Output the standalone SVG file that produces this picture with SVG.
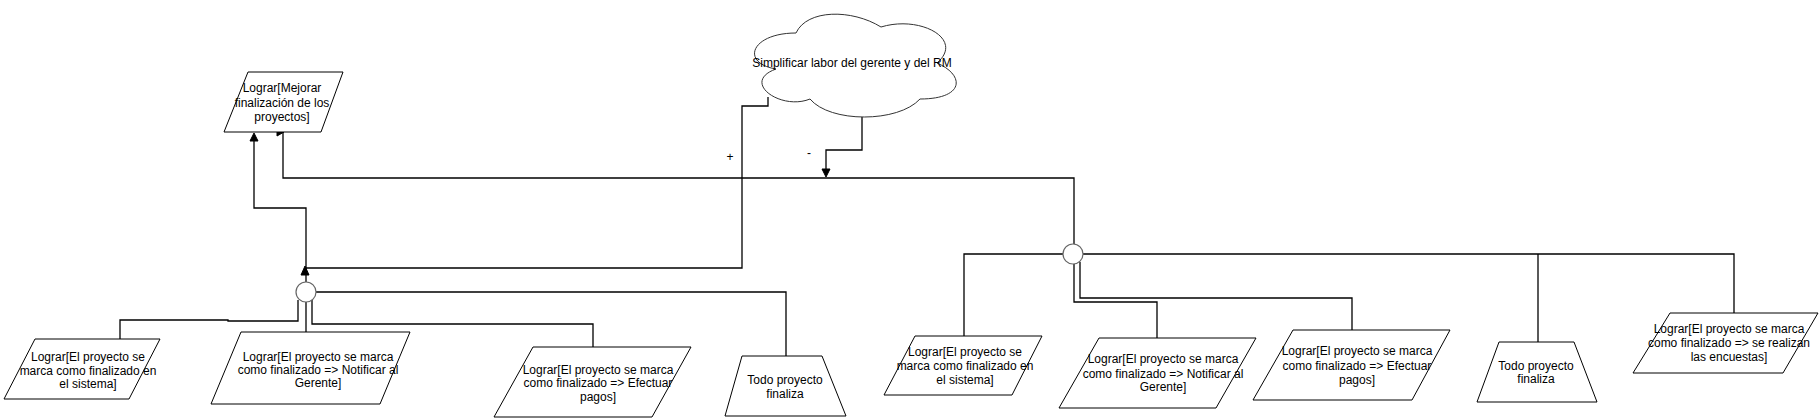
<svg xmlns="http://www.w3.org/2000/svg" width="1819" height="418" viewBox="0 0 1819 418">
<style>
.shape{fill:#fff;stroke:#000;stroke-width:1}
.circ{fill:#fff;stroke:#666;stroke-width:1.2}
.cloud{fill:#fff;stroke:#333;stroke-width:1}
.edge{fill:none;stroke:#000;stroke-width:1.3}
.ah{fill:#000;stroke:#000;stroke-width:1}
text{font-family:"Liberation Sans",Arial,sans-serif;font-size:12px;fill:#000;text-anchor:middle}
.sm{font-size:12px}
</style>
<rect width="1819" height="418" fill="#fff"/>
<g id="connectors">
<path class="edge" d="M306 282 V208 H254 V141"/>
<polygon class="ah" points="254,133 250,141 258,141"/>
<path class="edge" d="M1074 244 V178 H283 V132"/>
<polygon class="ah" points="284,132 277,128 277,136"/>
<path class="edge" d="M768 97 V106 H742 V268 H306"/>
<polygon class="ah" points="305,266 301,275 309,275"/>
<path class="edge" d="M862 117 V150 H826 V169"/>
<polygon class="ah" points="826,177 822,169 830,169"/>
<text class="sm" x="730" y="161">+</text>
<text class="sm" x="809" y="157">-</text>
<path class="edge" d="M120 339 V320 H228 V321 H298 V300"/>
<path class="edge" d="M306 332 V302"/>
<path class="edge" d="M593 347 V324 H312 V300"/>
<path class="edge" d="M786 356 V292 H316"/>
<path class="edge" d="M964 336 V254 H1063"/>
<path class="edge" d="M1157 338 V302 H1074 V264"/>
<path class="edge" d="M1352 330 V298 H1080 V262"/>
<path class="edge" d="M1538 342 V254"/>
<path class="edge" d="M1734 313 V254 H1083"/>
</g>
<g id="cloud">
<path class="cloud" d="M796 33 C751 33 740 63 776 69 C740 82 781 111 810 99 C830 123 898 123 920 99 C965 99 965 75 937 63 C965 39 920 15 881 27 C852 9 807 9 796 33 Z"/>
<text x="852" y="67">Simplificar labor del gerente y del RM</text>
</g>
<g id="goal-top">
<polygon class="shape" points="248,72 343,72 321,132 224,132"/>
<text x="282" y="92">Lograr[Mejorar</text>
<text x="282" y="107">finalización de los</text>
<text x="282" y="121">proyectos]</text>
</g>
<g id="and1"><circle class="circ" cx="306" cy="292" r="10"/></g>
<g id="and2"><circle class="circ" cx="1073" cy="254" r="10"/></g>
<g id="n1">
<polygon class="shape" points="35,339 160,339 129,399 4,399"/>
<text x="88" y="361">Lograr[El proyecto se</text>
<text x="88" y="375">marca como finalizado en</text>
<text x="88" y="388">el sistema]</text>
</g>
<g id="n2">
<polygon class="shape" points="241,332 410,332 380,404 211,404"/>
<text x="318" y="361">Lograr[El proyecto se marca</text>
<text x="318" y="374">como finalizado =&gt; Notificar al</text>
<text x="318" y="387">Gerente]</text>
</g>
<g id="n3">
<polygon class="shape" points="533,347 691,347 652,417 494,417"/>
<text x="598" y="374">Lograr[El proyecto se marca</text>
<text x="598" y="387">como finalizado =&gt; Efectuar</text>
<text x="598" y="401">pagos]</text>
</g>
<g id="t1">
<polygon class="shape" points="742,356 822,356 846,416 725,416"/>
<text x="785" y="384">Todo proyecto</text>
<text x="785" y="398">finaliza</text>
</g>
<g id="n4">
<polygon class="shape" points="915,336 1042,336 1012,395 884,395"/>
<text x="965" y="356">Lograr[El proyecto se</text>
<text x="965" y="370">marca como finalizado en</text>
<text x="965" y="384">el sistema]</text>
</g>
<g id="n5">
<polygon class="shape" points="1099,338 1256,338 1216,408 1059,408"/>
<text x="1163" y="363">Lograr[El proyecto se marca</text>
<text x="1163" y="378">como finalizado =&gt; Notificar al</text>
<text x="1163" y="391">Gerente]</text>
</g>
<g id="n6">
<polygon class="shape" points="1293,330 1450,330 1412,400 1253,400"/>
<text x="1357" y="355">Lograr[El proyecto se marca</text>
<text x="1357" y="370">como finalizado =&gt; Efectuar</text>
<text x="1357" y="384">pagos]</text>
</g>
<g id="t2">
<polygon class="shape" points="1499,342 1574,342 1597,402 1477,402"/>
<text x="1536" y="370">Todo proyecto</text>
<text x="1536" y="383">finaliza</text>
</g>
<g id="n8">
<polygon class="shape" points="1670,313 1818,313 1783,373 1633,373"/>
<text x="1729" y="333">Lograr[El proyecto se marca</text>
<text x="1729" y="347">como finalizado =&gt; se realizan</text>
<text x="1729" y="361">las encuestas]</text>
</g>
</svg>
